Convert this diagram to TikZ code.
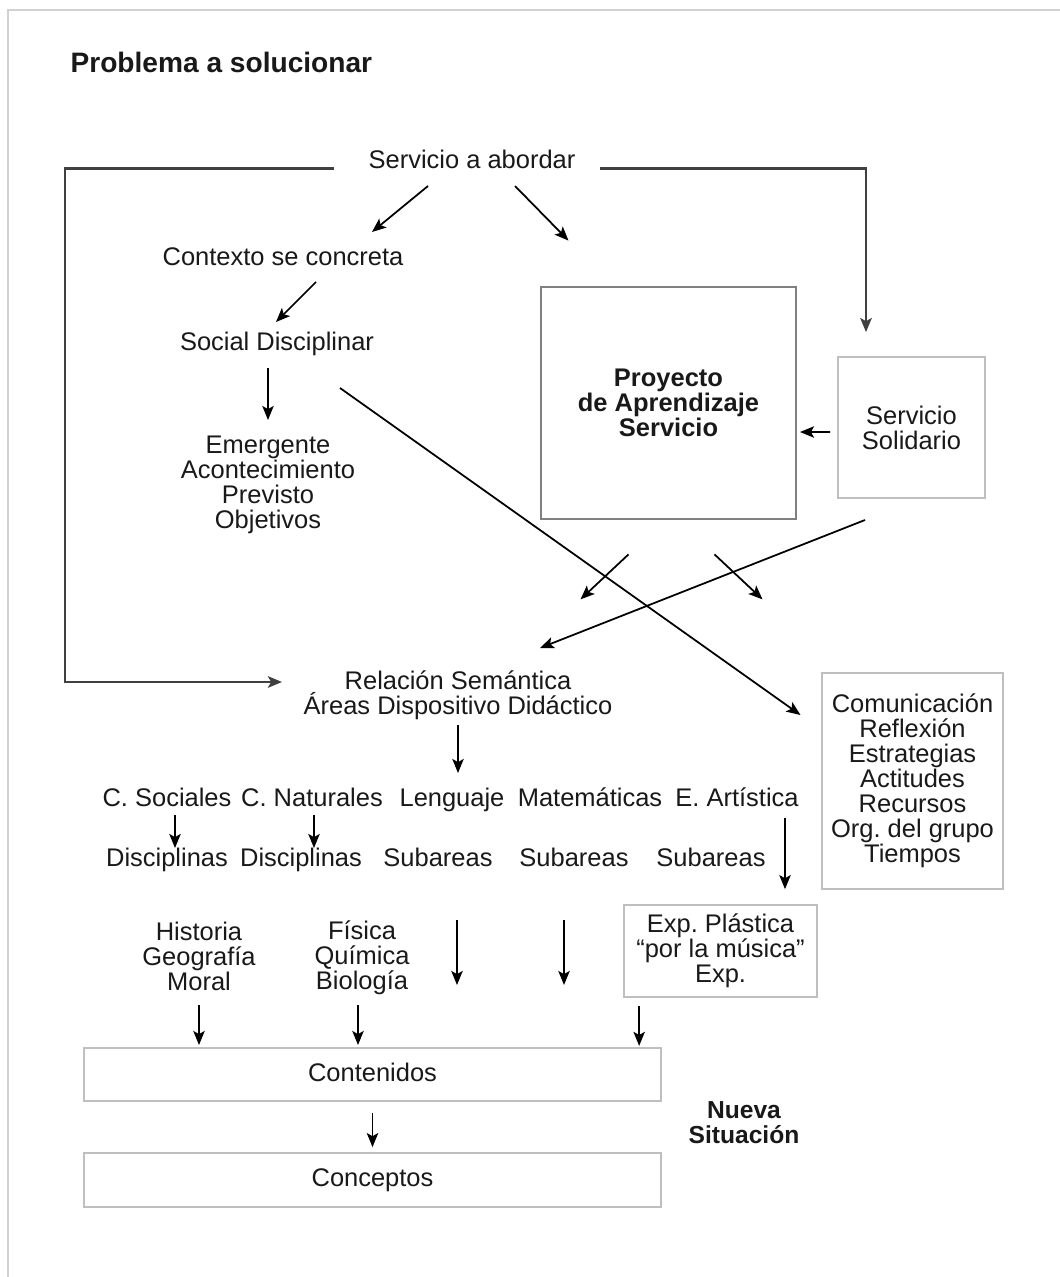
\documentclass[tikz,border=0pt]{standalone}
\usepackage{fontspec}
\setmainfont{Liberation Sans}
\usetikzlibrary{arrows,arrows.meta,positioning,calc}
\frenchspacing

\begin{document}
\begin{tikzpicture}[->,>={Stealth[length=8pt,width=6.5pt,inset=1.8pt]},line width=1pt,
                    x=0.02cm,y=-0.02cm,node distance=1.2cm]
  \tikzstyle{every node}=[font=\fontsize{14.5}{14.2}\selectfont,align=center,
                          inner sep=1pt,text=black!90]
  \tikzstyle{word}=[text height=10.4pt,text depth=3pt]
  \tikzstyle{framebox}=[draw=black!25,line width=1pt,inner sep=2pt]
  \tikzstyle{bigbox}=[draw=black!50,line width=1.6pt]
  \tikzstyle{link}=[draw=black!75,line width=1.6pt]

  \useasboundingbox (0,0) rectangle (1060,1277);
  \draw[-,black!18,line width=1.7pt] (8,1277) -- (8,10) -- (1060,10);

  \node[anchor=west,font=\fontsize{16}{18}\selectfont\bfseries] (tit) at (68,62) {Problema a solucionar};

  \node[word] (serv) at (472,162) {Servicio a abordar};
  \node[word] (ctx)  at (283,259) {Contexto se concreta};
  \node[word] (soc)  at (277,344) {Social Disciplinar};
  \node (eme)  at (268,485) {Emergente\\Acontecimiento\\Previsto\\Objetivos};
  \node[bigbox,minimum width=5.1cm,minimum height=4.64cm,
        font=\fontsize{14.5}{14.2}\selectfont\bfseries] (proj) at (668.5,403)
        {Proyecto\\de Aprendizaje\\Servicio};
  \node[framebox,minimum width=2.94cm,minimum height=2.82cm] (sol) at (911.5,427.5)
        {Servicio\\Solidario};
  \node (rel)  at (458,695) {Relación Semántica\\Áreas Dispositivo Didáctico};
  \node[framebox,minimum width=3.62cm,minimum height=4.32cm] (com) at (912.5,781)
        {Comunicación\\Reflexión\\Estrategias\\Actitudes\\Recursos\\Org. del grupo\\Tiempos};

  \node[word] (csoc) at (167,800) {C. Sociales};
  \node[word] (cnat) at (312,800) {C. Naturales};
  \node[word] (leng) at (452,800) {Lenguaje};
  \node[word] (mat)  at (590,800) {Matemáticas};
  \node[word] (art)  at (737,800) {E. Artística};

  \node[word] (dis1) [below of=csoc] {Disciplinas};
  \node[word] (dis2) at (301,860) {Disciplinas};
  \node[word] (sub1) at (438,860) {Subareas};
  \node[word] (sub2) at (574,860) {Subareas};
  \node[word] (sub3) at (711,860) {Subareas};

  \node (hist) at (199,956) {Historia\\Geografía\\Moral};
  \node (fis)  at (362,958) {Física\\Química\\Biología};
  \node[framebox,minimum width=3.86cm,minimum height=1.84cm] (exp) at (720.5,951)
        {Exp. Plástica\\“por la música”\\Exp.};

  \node[framebox,word,minimum width=11.54cm,minimum height=1.06cm] (cont) at (372.5,1074.5) {Contenidos};
  \node[framebox,word,minimum width=11.54cm,minimum height=1.08cm,node distance=2.11cm]
        (conc) [below of=cont] {Conceptos};
  \node[font=\fontsize{14}{14.2}\selectfont\bfseries] (nueva) at (744,1123) {Nueva\\Situación};

  % outer links
  \coordinate (lcorner) at (65,682);
  \draw[link,shorten <=0.64cm,shorten >=0.38cm] (serv.base west) -| (lcorner)
        -- (lcorner -| rel.west);
  \draw[link,shorten <=0.44cm,shorten >=0.48cm] (serv.base east)
        -| ([xshift=-0.91cm]sol.north);

  % arrows
  \draw ($(serv)+(-44,24)$) -- ($(ctx)+(89,-27)$);
  \draw ($(serv)+(43,24)$) -- ($(proj.north)+(-100,-45)$);
  \draw ($(ctx)+(33,23)$) -- ($(soc)+(-1,-22)$);
  \draw ($(soc)+(-9,24)$) -- ($(eme)+(0,-65)$);
  \draw ($(soc)+(63,44)$) -- ($(com)+(-112,-66)$);
  \draw ($(sol)+(-46.5,92.5)$) -- ($(rel)+(82,-47)$);
  \draw ($(sol)+(-81.5,4.5)$) -- ($(proj)+(131.5,29)$);
  \draw ($(proj.south)+(-40,34)$) -- ++(-48,45);
  \draw ($(proj.south)+(46,34)$) -- ++(48,45);
  \draw ($(rel)+(0,30)$) -- ($(rel)+(0,78)$);

  \draw ($(csoc)+(8,15)$) -- ($(csoc)+(8,48)$);
  \draw ($(cnat)+(2,15)$) -- ($(cnat)+(2,48)$);
  \draw ($(art)+(48,18)$) -- ($(exp.north)+(64.5,-15)$);
  \draw ($(sub1)+(19,60)$) -- ++(0,65);
  \draw ($(sub2)+(-10,60)$) -- ++(0,65);

  \draw ($(hist)+(0,49)$) -- ($(hist)+(0,89)$);
  \draw ($(fis)+(-4,47)$) -- ($(fis)+(-4,87)$);
  \draw ($(exp.south west)+(16,8)$) -- ($(exp.south west)+(16,48)$);
  \draw[shorten <=0.22cm,shorten >=0.1cm] (cont.south) -- (conc.north);

\end{tikzpicture}
\end{document}
